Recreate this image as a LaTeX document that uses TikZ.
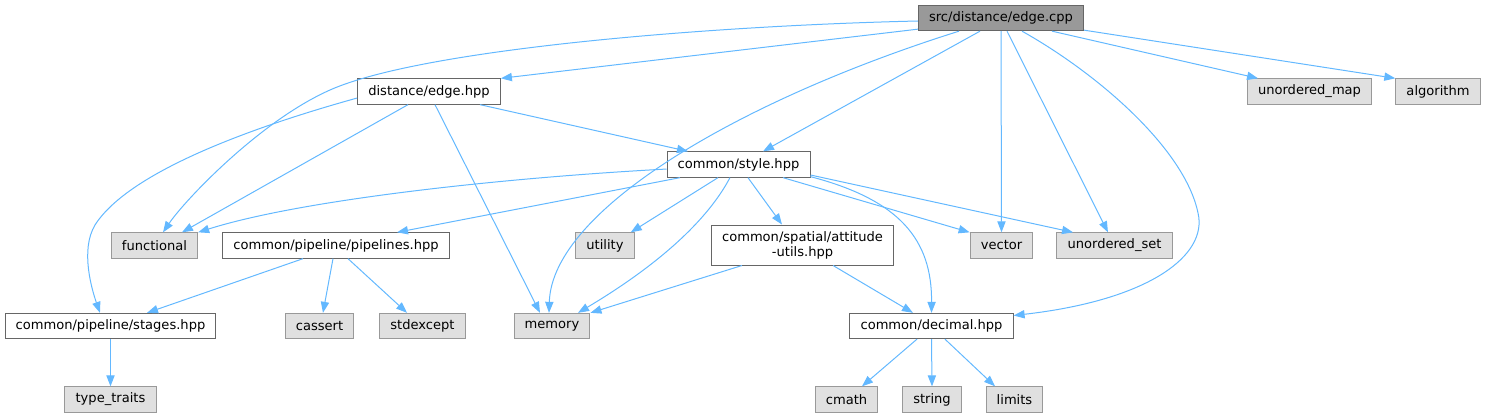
\documentclass[tikz,border=0pt]{standalone}
\usepackage{fontspec}
\setmainfont{DejaVu Sans}
\usepackage{xcolor}
\usepackage{tikz}
\usetikzlibrary{arrows.meta}

\definecolor{edgeblue}{HTML}{63B8FF}
\definecolor{boxdark}{HTML}{666666}
\definecolor{boxlight}{HTML}{999999}
\definecolor{boxmain}{HTML}{999999}
\definecolor{boxsys}{HTML}{E0E0E0}

\begin{document}
\begin{tikzpicture}[
    x=0.75pt, y=-0.75pt,
    every node/.style={font=\fontsize{9.8}{11.3}\selectfont, inner xsep=8pt, inner ysep=0pt, minimum height=19pt, line width=0.75pt},
    mainfile/.style={rectangle, draw=boxdark, fill=boxmain},
    header/.style={rectangle, draw=boxdark, fill=white},
    syshdr/.style={rectangle, draw=boxlight, fill=boxsys},
    dep/.style={-{Triangle[length=8.25pt,width=6.2pt]}, edgeblue, line width=0.75pt}
]
\useasboundingbox (0,0) rectangle (1487,417);

% Row 1: the source file
\node[mainfile] at (1001,18) (edgecpp) {src/distance/edge.cpp};

% Row 2
\node[header] at (429,91.5) (edgehpp) {distance/edge.hpp};
\node[syshdr] at (1309.5,91.5) (umap) {unordered\_map};
\node[syshdr] at (1438,91.5) (algorithm) {algorithm};

% Row 3
\node[header] at (738.5,164.5) (stylehpp) {common/style.hpp};

% Row 4
\node[syshdr] at (154.5,245.5) (functional) {functional};
\node[header] at (336,245.5) (pipelines) {common/pipeline/pipelines.hpp};
\node[syshdr] at (605,245.5) (utility) {utility};
\node[header, align=center, minimum height=30pt] at (802.5,245) (attitude) {common/spatial/attitude\\-utils.hpp};
\node[syshdr] at (1001.5,245.5) (vector) {vector};
\node[syshdr] at (1114.5,245.5) (uset) {unordered\_set};

% Row 5
\node[header] at (110.5,326) (stages) {common/pipeline/stages.hpp};
\node[syshdr] at (319.5,326) (cassert) {cassert};
\node[syshdr] at (422.5,326) (stdexcept) {stdexcept};
\node[syshdr] at (552,326) (memory) {memory};
\node[header] at (931.5,326) (decimal) {common/decimal.hpp};

% Row 6
\node[syshdr] at (110.5,399.5) (typetraits) {type\_traits};
\node[syshdr] at (846.5,399.5) (cmath) {cmath};
\node[syshdr] at (932,399.5) (string) {string};
\node[syshdr] at (1014.5,399.5) (limits) {limits};

% Includes of edge.cpp
\draw[dep] ([yshift=-2.25pt]edgecpp.west) .. controls (700,26) and (420,50) .. (330,90) .. controls (260,121) and (185,200) .. ([xshift=6.4pt]functional.north);
\draw[dep] ([yshift=1.5pt]edgecpp.south west) -- (edgehpp.north east);
\draw[dep] ([xshift=-31.5pt]edgecpp.south) .. controls (740,100) and (552,210) .. ([xshift=-2.25pt]memory.north);
\draw[dep] ([xshift=-15.75pt]edgecpp.south) -- ([xshift=18.4pt]stylehpp.north);
\draw[dep] (edgecpp.south) -- (vector.north);
\draw[dep] ([xshift=4.5pt]edgecpp.south) -- ([xshift=-4.9pt]uset.north);
\draw[dep] ([xshift=15.75pt]edgecpp.south) .. controls (1100,75) and (1185,150) .. (1198,213) .. controls (1208,255) and (1150,300) .. ([yshift=-2pt]decimal.north east);
\draw[dep] ([xshift=38.25pt]edgecpp.south) -- ([xshift=-38.6pt]umap.north);
\draw[dep] ([yshift=0.75pt]edgecpp.south east) -- (algorithm.north west);

% Includes of edge.hpp
\draw[dep] ([yshift=-4.9pt]edgehpp.west) .. controls (260,125) and (130,170) .. (95,225) .. controls (80,250) and (92,290) .. ([xshift=-7.9pt]stages.north);
\draw[dep] ([xshift=-15.75pt]edgehpp.south) -- ([xshift=20.6pt]functional.north);
\draw[dep] ([xshift=4.5pt]edgehpp.south) -- ([xshift=-9pt]memory.north);
\draw[dep] ([xshift=38.25pt]edgehpp.south) -- ([xshift=-37.9pt]stylehpp.north);

% Includes of style.hpp
\draw[dep] ([yshift=-3.4pt]stylehpp.west) .. controls (500,178) and (300,200) .. (functional.north east);
\draw[dep] ([xshift=-43.9pt]stylehpp.south) -- ([xshift=45.75pt]pipelines.north);
\draw[dep] ([xshift=-15.4pt]stylehpp.south) -- ([xshift=-3pt]utility.north east);
\draw[dep] ([xshift=-6.4pt]stylehpp.south) .. controls (705,225) and (650,270) .. ([xshift=19.5pt]memory.north);
\draw[dep] ([xshift=7.1pt]stylehpp.south) -- ([xshift=-15.4pt]attitude.north);
\draw[dep] ([yshift=0.75pt]stylehpp.south east) .. controls (900,200) and (932,240) .. (decimal.north);
\draw[dep] ([xshift=33.4pt]stylehpp.south) -- (vector.north west);
\draw[dep] ([yshift=2pt]stylehpp.south east) -- ([xshift=-31.1pt]uset.north);

% Includes of pipelines.hpp
\draw[dep] ([xshift=-24.75pt]pipelines.south) -- ([xshift=27.4pt]stages.north);
\draw[dep] ([xshift=-2.25pt]pipelines.south) -- ([xshift=2.6pt]cassert.north);
\draw[dep] ([xshift=9pt]pipelines.south) -- ([xshift=-11.6pt]stdexcept.north);

% Includes of attitude-utils.hpp
\draw[dep] ([xshift=-45.4pt]attitude.south) -- (memory.north east);
\draw[dep] ([xshift=22.9pt]attitude.south) -- ([xshift=-13.9pt]decimal.north);

% Includes of decimal.hpp and stages.hpp
\draw[dep] ([xshift=-10.9pt]decimal.south) -- ([xshift=11.6pt]cmath.north);
\draw[dep] (decimal.south) -- (string.north);
\draw[dep] ([xshift=10.1pt]decimal.south) -- ([xshift=-14.6pt]limits.north);
\draw[dep] (stages.south) -- (typetraits.north);

\end{tikzpicture}
\end{document}
